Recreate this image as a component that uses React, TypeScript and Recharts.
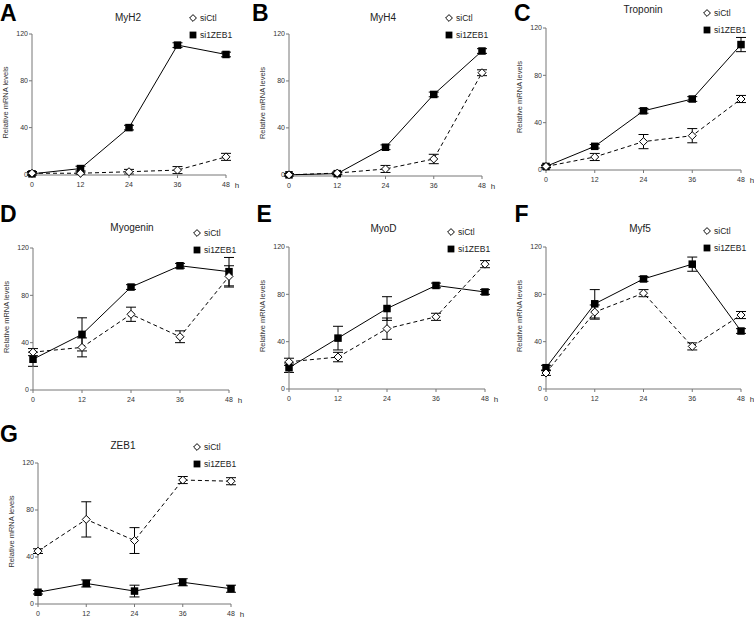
import { LineChart, Line, XAxis, YAxis, ErrorBar } from 'recharts'

const FONT = '"Liberation Sans", Arial, Helvetica, sans-serif'

// time points (h) and axis ticks
const hours = [0, 12, 24, 36, 48]
const yTicks = [0, 40, 80, 120]

// MyH2
const myh2Ctl = [1, 1, 2.3, 3.7, 15]
const myh2CtlErr = [1.5, 1, 2, 3, 3]
const myh2Zeb = [0.5, 5, 40, 110.5, 102.5]
const myh2ZebErr = [1, 2, 2, 2, 2]

// MyH4
const myh4Ctl = [0, 1.5, 5, 13.5, 87]
const myh4CtlErr = [1, 1, 3, 4, 2.5]
const myh4Zeb = [0, 1, 23.5, 68.5, 105.5]
const myh4ZebErr = [1, 1, 2, 2, 2]

// Troponin
const tropCtl = [3, 11, 24, 29, 60]
const tropCtlErr = [1, 3, 6, 6, 3]
const tropZeb = [3, 20, 50, 60, 106]
const tropZebErr = [1, 1.5, 2, 2, 6]

// Myogenin
const myogCtl = [32, 36, 64, 45, 96]
const myogCtlErr = [3, 8, 6, 5, 9]
const myogZeb = [26, 47, 87, 105, 100]
const myogZebErr = [6, 14, 2, 2, 12]

// MyoD
const myodCtl = [23, 27, 51, 61, 105.5]
const myodCtlErr = [3, 4, 9, 3, 3]
const myodZeb = [18, 43, 68, 87.5, 82]
const myodZebErr = [4, 10, 10, 2, 2]

// Myf5
const myf5Ctl = [13.5, 65, 81, 36, 62.5]
const myf5CtlErr = [2, 6, 3, 3, 3]
const myf5Zeb = [18, 72, 93, 105.5, 49]
const myf5ZebErr = [2, 12, 2, 6, 2]

// ZEB1
const zebCtl = [45, 72, 54, 105.5, 104.5]
const zebCtlErr = [2, 15, 11, 3, 3]
const zebZeb = [10, 17.5, 11, 18.5, 13]
const zebZebErr = [1.5, 3, 5, 3, 3]

const rows = (ctl: number[], ctlErr: number[], zeb: number[], zebErr: number[]) =>
  hours.map((h, i) => ({ h, ctl: ctl[i], ctlErr: ctlErr[i], zeb: zeb[i], zebErr: zebErr[i] }))

// plot boxes (page px) and label spots
const panels = [
  { letter: 'A', lx: 0, ly: 21, title: 'MyH2', tx: 128, ty: 17, x0: 32, x1: 226, y0: 34, y1: 175, gx: 193, gy: 18,
    data: rows(myh2Ctl, myh2CtlErr, myh2Zeb, myh2ZebErr) },
  { letter: 'B', lx: 252, ly: 21, title: 'MyH4', tx: 383, ty: 17, x0: 289, x1: 482, y0: 34, y1: 176, gx: 449, gy: 18,
    data: rows(myh4Ctl, myh4CtlErr, myh4Zeb, myh4ZebErr) },
  { letter: 'C', lx: 514, ly: 21, title: 'Troponin', tx: 643, ty: 9.5, x0: 546, x1: 741, y0: 28, y1: 170, gx: 707, gy: 13,
    data: rows(tropCtl, tropCtlErr, tropZeb, tropZebErr) },
  { letter: 'D', lx: 0, ly: 221.5, title: 'Myogenin', tx: 132, ty: 227, x0: 33, x1: 229, y0: 248, y1: 390, gx: 197, gy: 233,
    data: rows(myogCtl, myogCtlErr, myogZeb, myogZebErr) },
  { letter: 'E', lx: 256.5, ly: 221.5, title: 'MyoD', tx: 383.5, ty: 228, x0: 289, x1: 485, y0: 247, y1: 389, gx: 451, gy: 232,
    data: rows(myodCtl, myodCtlErr, myodZeb, myodZebErr) },
  { letter: 'F', lx: 514.5, ly: 221.5, title: 'Myf5', tx: 640, ty: 228, x0: 546, x1: 741, y0: 247, y1: 389, gx: 707, gy: 231,
    data: rows(myf5Ctl, myf5CtlErr, myf5Zeb, myf5ZebErr) },
  { letter: 'G', lx: 0, ly: 441.5, title: 'ZEB1', tx: 123, ty: 445, x0: 38, x1: 231, y0: 463, y1: 604, gx: 197, gy: 447,
    data: rows(zebCtl, zebCtlErr, zebZeb, zebZebErr) },
]

const tickStyle = { fontSize: 7, fill: '#333', fontFamily: FONT }

function diamondDot(p: any) {
  const { cx, cy, index } = p
  if (cx == null || cy == null) return <g key={`dn${index}`} />
  const r = 4
  return (
    <polygon
      key={`dd${index}`}
      points={`${cx},${cy - r} ${cx + r},${cy} ${cx},${cy + r} ${cx - r},${cy}`}
      fill="#fff"
      stroke="#000"
      strokeWidth={1}
    />
  )
}

function squareDot(p: any) {
  const { cx, cy, index } = p
  if (cx == null || cy == null) return <g key={`sn${index}`} />
  const s = 7.5
  return <rect key={`sd${index}`} x={cx - s / 2} y={cy - s / 2} width={s} height={s} fill="#000" />
}

function Panel({ p }: { p: (typeof panels)[number] }) {
  const width = p.x1 - p.x0 + 56
  const height = p.y1 - p.y0 + 60
  return (
    <div style={{ position: 'absolute', left: p.x0 - 32, top: p.y0 - 34 }}>
      <LineChart width={width} height={height} data={p.data} margin={{ top: 34, right: 24, bottom: 6, left: 8 }}>
        <XAxis
          dataKey="h"
          type="number"
          domain={[0, 48]}
          ticks={hours}
          tick={tickStyle}
          tickSize={3}
          tickMargin={4.5}
          height={20}
          stroke="#777"
          interval={0}
        />
        <YAxis
          type="number"
          domain={[0, 120]}
          ticks={yTicks}
          tick={tickStyle}
          tickSize={3}
          tickMargin={1}
          width={24}
          stroke="#777"
          interval={0}
        />
        <Line
          dataKey="zeb"
          stroke="#000"
          strokeWidth={1}
          dot={squareDot}
          activeDot={false}
          isAnimationActive={false}
        >
          <ErrorBar dataKey="zebErr" width={5} stroke="#000" strokeWidth={1} direction="y" />
        </Line>
        <Line
          dataKey="ctl"
          stroke="#000"
          strokeWidth={1}
          strokeDasharray="4 3"
          dot={diamondDot}
          activeDot={false}
          isAnimationActive={false}
        >
          <ErrorBar dataKey="ctlErr" width={5} stroke="#000" strokeWidth={1} direction="y" />
        </Line>
      </LineChart>
    </div>
  )
}

export default function App() {
  return (
    <div style={{ position: 'absolute', left: 0, top: 0, width: 754, height: 618, background: '#fff', fontFamily: FONT }}>
      {panels.map((p) => (
        <Panel key={p.letter} p={p} />
      ))}
      <svg width={754} height={618} style={{ position: 'absolute', left: 0, top: 0, pointerEvents: 'none' }}>
        {panels.map((p) => {
          const cyMid = (p.y0 + p.y1) / 2 - 2
          const ylx = p.x0 - 24.5
          return (
            <g key={p.letter} fontFamily={FONT}>
              <text x={p.lx} y={p.ly} fontSize={23} fontWeight="bold" fill="#000">
                {p.letter}
              </text>
              <text x={p.tx} y={p.ty + 3.6} fontSize={10} textAnchor="middle" fill="#222">
                {p.title}
              </text>
              <polygon
                points={`${p.gx},${p.gy - 3.4} ${p.gx + 3.4},${p.gy} ${p.gx},${p.gy + 3.4} ${p.gx - 3.4},${p.gy}`}
                fill="#fff"
                stroke="#000"
                strokeWidth={1}
              />
              <text x={p.gx + 7} y={p.gy + 3} fontSize={8.5} fill="#222">
                siCtl
              </text>
              <rect x={p.gx - 3.4} y={p.gy + 17 - 3.4} width={6.8} height={6.8} fill="#000" />
              <text x={p.gx + 7} y={p.gy + 17 + 3} fontSize={8.5} fill="#222">
                si1ZEB1
              </text>
              <text
                x={ylx}
                y={cyMid}
                fontSize={7.5}
                fill="#333"
                textAnchor="middle"
                transform={`rotate(-90 ${ylx} ${cyMid})`}
              >
                Relative mRNA levels
              </text>
              <text x={p.x1 + 11} y={p.y1 + 12.5} fontSize={8} fill="#333" textAnchor="middle">
                h
              </text>
            </g>
          )
        })}
      </svg>
    </div>
  )
}
